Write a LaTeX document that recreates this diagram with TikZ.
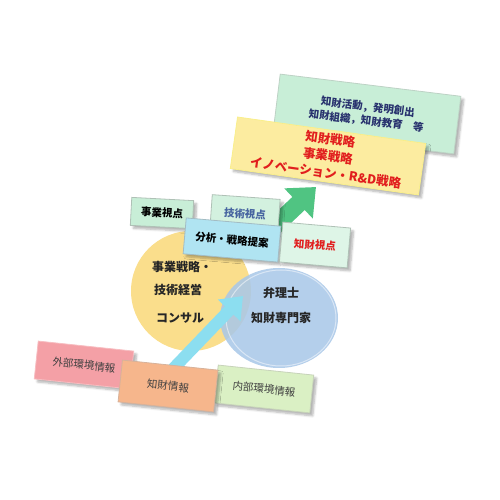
\documentclass[tikz,border=0pt]{standalone}
\usepackage{fontspec}
\setmainfont{Noto Sans CJK JP}
\usetikzlibrary{arrows.meta,shadows.blur}

\definecolor{mintbg}{RGB}{200,238,215}
\definecolor{paleyel}{RGB}{252,236,160}
\definecolor{edgeyel}{RGB}{246,232,90}
\definecolor{circyel}{RGB}{250,222,140}
\definecolor{circblu}{RGB}{170,200,232}
\definecolor{skyfill}{RGB}{176,228,242}
\definecolor{arrgreen}{RGB}{80,196,130}
\definecolor{arrcyan}{RGB}{140,222,240}
\definecolor{redtxt}{RGB}{225,30,30}
\definecolor{navytxt}{RGB}{40,50,110}
\definecolor{steeltxt}{RGB}{70,100,160}
\definecolor{pinkbox}{RGB}{244,160,166}
\definecolor{orangebox}{RGB}{246,182,140}
\definecolor{lgreenbox}{RGB}{218,240,196}

\begin{document}
\begin{tikzpicture}[x=1pt,y=1pt,
    panel/.style={draw=#1!70!white,line width=0.8pt,inner sep=2pt,align=center,
      blur shadow={shadow xshift=3pt,shadow yshift=-3pt,shadow blur steps=6,shadow opacity=30}},
    view/.style={panel=#1,font=\bfseries\fontsize{10.5}{12}\selectfont,minimum height=28pt},
    info/.style={panel=#1,font=\fontsize{10.5}{12}\selectfont,text=black!75,minimum width=96pt,minimum height=38pt},
    circtext/.style={font=\bfseries\fontsize{12}{14}\selectfont,text=black!85}]
  \useasboundingbox (0,0) rectangle (500,500);

  % goal panels
  \node[panel=mintbg!80!black,fill=mintbg,minimum width=182pt,minimum height=58pt,
        rotate=-7,font=\bfseries\fontsize{10.5}{14}\selectfont,text=navytxt]
    (activity) at (367,386) {知財活動，発明創出\\知財組織，知財教育　等};
  \node[panel=edgeyel,fill=paleyel,minimum width=190pt,minimum height=52pt,
        rotate=-8,font=\bfseries\fontsize{12.5}{17}\selectfont,text=redtxt]
    (strategy) at (328,344) {知財戦略\\事業戦略\\イノベーション・R\&D戦略};

  \coordinate (gtail) at (262,262);
  \coordinate (gtip) at (316,313);
  \draw[arrgreen,line width=18pt,-{Triangle[width=40pt,length=24pt]}] (gtail) -- (gtip);

  % circles
  \fill[circyel] (191,209) circle (60);
  \fill[circblu,opacity=0.88] (279,182) ellipse (59 and 50);
  \draw[white,line width=1pt,opacity=0.5] (281,182) ellipse (55 and 48);

  \node[circtext] (c1) at (182,233) {事業戦略・};
  \node[circtext] (c2) at (178,210) {技術経営};
  \node[circtext] (c3) at (180,182) {コンサル};
  \node[circtext] (b1) at (281,207) {弁理士};
  \node[circtext] (b2) at (281,182) {知財専門家};

  % viewpoints
  \node[view=mintbg!70!black,fill=mintbg,minimum width=62pt,rotate=-3] (bizview) at (162,287) {事業視点};
  \node[view=mintbg!70!black,fill=mintbg!80!white,minimum width=68pt,minimum height=34pt,rotate=-4,text=steeltxt] (techview) at (245,286) {技術視点};
  \node[view=skyfill!70!black,fill=skyfill,minimum width=95pt,minimum height=36pt,rotate=-5] (analysis) at (232,260) {分析・戦略提案};
  \node[view=mintbg!70!black,fill=mintbg!60!white,minimum width=68pt,minimum height=40pt,rotate=-5,text=redtxt] (ipview) at (315,255) {知財視点};

  % information
  \coordinate (btail) at (170,128);
  \coordinate (btip) at (243,204);
  \draw[arrcyan,line width=12pt,-{Triangle[width=30pt,length=20pt]}] (btail) -- (btip);

  \node[info=pinkbox,fill=pinkbox,rotate=-6] (outside) at (84,135) {外部環境情報};
  \node[info=lgreenbox!80!black,fill=lgreenbox,rotate=-6] (inside) at (264,111) {内部環境情報};
  \node[info=orangebox!80!black,fill=orangebox,minimum height=42pt,rotate=-6] (ipinfo) at (168,114) {知財情報};
\end{tikzpicture}
\end{document}
